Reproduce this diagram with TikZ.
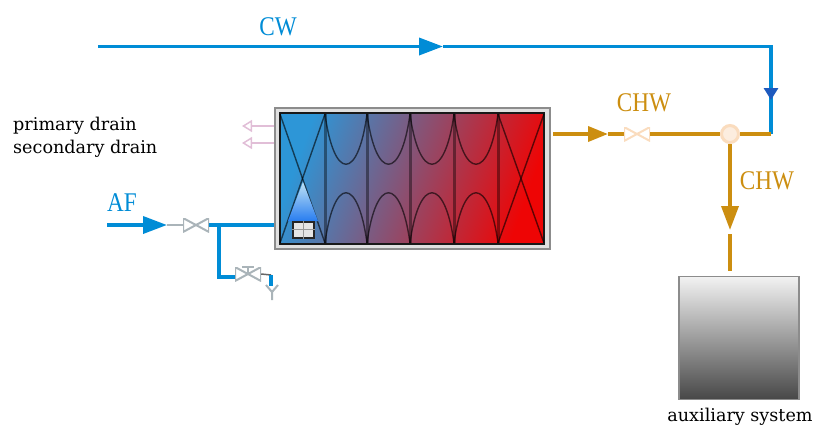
\documentclass[tikz,border=0pt]{standalone}
\usepackage{fontspec}
\setmainfont{Liberation Serif}
\newfontfamily\namefont{DejaVu Serif}
\usetikzlibrary{arrows.meta}
\definecolor{cwblue}{RGB}{0,140,214}
\definecolor{chworange}{RGB}{204,142,16}
\definecolor{valvegrey}{RGB}{170,180,185}
\definecolor{valvepeach}{RGB}{250,220,190}
\definecolor{drainpink}{RGB}{225,190,215}
\definecolor{coldend}{RGB}{45,150,215}
\definecolor{midend}{RGB}{190,45,75}
\definecolor{hotend}{RGB}{238,5,5}
\definecolor{flame}{RGB}{40,125,240}
\definecolor{downblue}{RGB}{30,90,190}
\tikzstyle{pipe} = [draw,line width=3.6pt,cwblue]
\tikzstyle{hot pipe} = [draw,line width=3.6pt,chworange]
\tikzstyle{thin pipe} = [draw,line width=1.5pt,valvegrey]
\tikzstyle{flow} = [-{Triangle[length=24pt,width=17pt]}]
\tikzstyle{drain} = [draw,line width=1.5pt,drainpink,-{Triangle[open,length=10pt,width=12pt,fill=white]}]
\tikzstyle{tag} = [font=\fontsize{27}{27}\selectfont,inner sep=0pt,xscale=.86,transform shape]
\tikzstyle{caption} = [font=\namefont\fontsize{17.6}{17.6}\selectfont,inner sep=0pt,anchor=base west]
\tikzstyle{valve} = [minimum width=26pt,minimum height=14pt,inner sep=0pt,
  path picture={\draw[line width=2pt,#1]
    (path picture bounding box.north west) -- (path picture bounding box.south east)
    -- (path picture bounding box.north east) -- (path picture bounding box.south west) -- cycle;}]
\tikzstyle{baffle} = [line width=1.4pt,black,opacity=.6]
\begin{document}
\begin{tikzpicture}[x=1pt,y=-1pt]
\useasboundingbox (0,0) rectangle (815,426);
% heat exchanger body and its baffles
\node[draw=black!45,line width=2pt,fill=black!12,minimum width=275pt,minimum height=141pt,inner sep=0pt] (hx) at (412.5,178.5) {};
\node[draw=black!90,line width=2.4pt,left color=coldend,middle color=midend,right color=hotend,shading angle=70,minimum width=264pt,minimum height=131pt,inner sep=0pt] (core) at (412,178.5) {};
\foreach \xa/\xb in {280/325, 498/544}{
  \draw[baffle] (\xa,114) -- (\xb,243);
  \draw[baffle] (\xb,114) -- (\xa,243);
}
\foreach \xa/\xb in {325/367, 367/410, 410/454, 454/498}{
  \draw[baffle] (\xa,114) .. controls ({\xa+9},181) and ({\xb-9},181) .. (\xb,114);
  \draw[baffle] (\xa,243) .. controls ({\xa+9},176) and ({\xb-9},176) .. (\xb,243);
}
\foreach \xa in {325,367,410,454,498}
  \draw[line width=3pt,black,opacity=.4] (\xa,114) -- (\xa,243);
% burner
\shade[top color=cwblue!25!white,bottom color=flame] (303,182) -- (318,221) -- (288,221) -- cycle;
\node[draw=black!85,line width=2pt,fill=black!10,minimum width=21pt,minimum height=16pt,inner sep=0pt] (burner) at (303.5,229.5) {};
\draw[black!40] (burner.west) -- (burner.east) (burner.north) -- (burner.south);
% drains
\coordinate (drainA) at (242,126);
\coordinate (drainB) at (242,143);
\draw[drain] (hx.west |- drainA) -- (drainA);
\draw[drain] (hx.west |- drainB) -- (drainB);
% valves and other pipe nodes
\foreach \pos/\name/\col in {{(196,225)/afvalve/valvegrey}, {(248,274)/bypass/valvegrey}, {(637,134)/chwvalve/valvepeach}}
  \node[valve=\col] (\name) at \pos {};
\draw[line width=2pt,valvegrey] (bypass.center) -- (bypass.north) ++(-6,0) -- ++(12,0);
\node[circle,draw=valvepeach,line width=3pt,fill=valvepeach!50,minimum size=17pt,inner sep=0pt] (tee) at (730,134) {};
% cold water
\coordinate (cwstart) at (98,46.5);
\coordinate (cwarrow) at (443,46.5);
\coordinate (cwcorner) at (771,46.5);
\coordinate (cwdown) at (771,100);
\coordinate (cwend) at (771,134);
\path[pipe,flow] (cwstart) -- (cwarrow);
\path[pipe] (cwarrow) -- (cwcorner) -- (cwend);
\path[draw,line width=3.6pt,downblue,-{Triangle[length=12pt,width=14pt]}] (771,88) -- (cwdown);
\path[hot pipe] (cwend) -- (tee);
% chilled water
\coordinate (hxout) at (553,134);
\coordinate (hotarrow) at (608,134);
\path[hot pipe,-{Triangle[length=20pt,width=15pt]}] (hxout) -- (hotarrow);
\path[hot pipe] (hotarrow) -- (chwvalve);
\path[hot pipe] (chwvalve) -- (tee);
\coordinate (downarrow) at (730,230);
\coordinate (auxin) at (730,234);
\path[hot pipe,flow] (tee) -- (downarrow);
% auxiliary system
\node[draw=black!45,line width=1.2pt,top color=black!5,bottom color=black!72,minimum width=120pt,minimum height=123pt,inner sep=0pt] (aux) at (739,338) {};
\path[hot pipe] (auxin) -- (730,271);
% make-up water
\coordinate (afstart) at (107,225);
\coordinate (aftip) at (167,225);
\path[pipe,flow] (afstart) -- (aftip);
\path[thin pipe] (aftip) -- (afvalve);
\path[pipe] (afvalve.east) -- (hx.west |- afvalve);
\coordinate (afjoin) at (219,225);
\coordinate (afdrop) at (219,277);
\path[pipe] (afjoin) -- (afdrop) -- (bypass.west |- afdrop);
\coordinate (sink) at (271,286);
\path[draw,line width=1.5pt,black!60] (bypass.east) -- (271,275);
\path[pipe] (271,275) -- (sink);
\draw[line width=2pt,valvegrey] (266,285) -- (272,292) -- (278,285) (272,292) -- (272,300);
% labels
\node[tag,cwblue] (cw) at (278,27) {CW};
\node[tag,cwblue] (af) at (122,203) {AF};
\node[tag,chworange] (chwa) at (644,103) {CHW};
\node[tag,chworange] (chwb) at (767,181) {CHW};
\node[caption] (primary) at (13,130.5) {primary drain};
\node[caption] (secondary) at (13,153) {secondary drain};
\node[caption,anchor=base] (auxname) at (740,421) {auxiliary system};
\end{tikzpicture}
\end{document}
